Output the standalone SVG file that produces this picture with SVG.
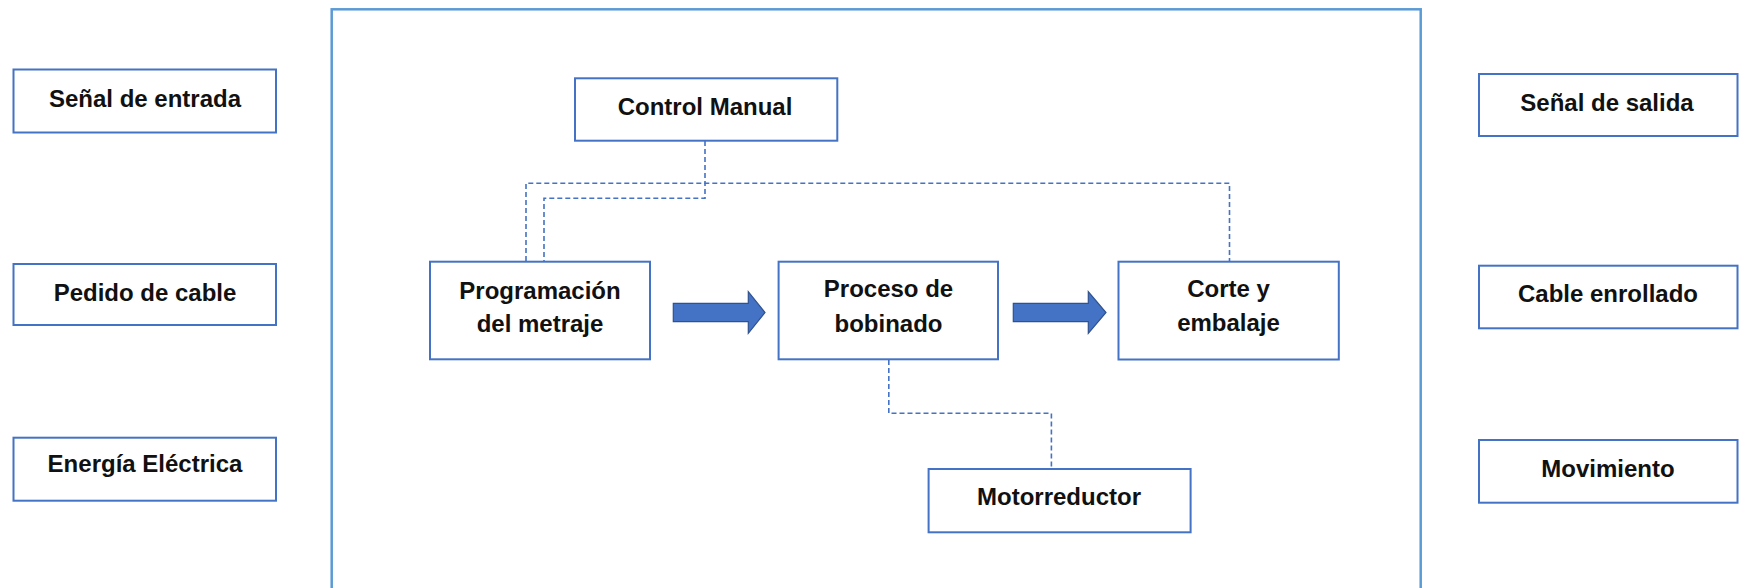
<svg xmlns="http://www.w3.org/2000/svg" width="1739" height="588" viewBox="0 0 1739 588">
  <style>
    .box { fill: #ffffff; stroke: #4472C4; stroke-width: 2; }
    .frame { fill: none; stroke: #5B9BD5; stroke-width: 2.5; }
    .lbl { font-family: "Liberation Sans", Arial, sans-serif; font-weight: bold; font-size: 24px; fill: #111111; text-anchor: middle; }
    .dash { fill: none; stroke: #4472C4; stroke-width: 1.6; stroke-dasharray: 5 3; }
    .flow { fill: #4472C4; stroke: #2F528F; stroke-width: 1.2; }
  </style>

  <rect width="1739" height="588" fill="#ffffff"/>

  <!-- system boundary -->
  <rect id="system-boundary" class="frame" x="331.7" y="9.3" width="1089" height="600"/>

  <!-- inputs -->
  <g id="in-senal">
    <rect class="box" x="13.5" y="69.5" width="262.5" height="63"/>
    <text class="lbl" x="145" y="106.7">Señal de entrada</text>
  </g>
  <g id="in-pedido">
    <rect class="box" x="13.5" y="264" width="262.5" height="61"/>
    <text class="lbl" x="145" y="301">Pedido de cable</text>
  </g>
  <g id="in-energia">
    <rect class="box" x="13.5" y="437.7" width="262.5" height="63"/>
    <text class="lbl" x="145" y="472.3">Energía Eléctrica</text>
  </g>

  <!-- outputs -->
  <g id="out-senal">
    <rect class="box" x="1479" y="74" width="258.5" height="62"/>
    <text class="lbl" x="1607" y="111">Señal de salida</text>
  </g>
  <g id="out-cable">
    <rect class="box" x="1479" y="265.7" width="258.5" height="62.6"/>
    <text class="lbl" x="1608" y="302.3">Cable enrollado</text>
  </g>
  <g id="out-movimiento">
    <rect class="box" x="1479" y="440" width="258.5" height="62.7"/>
    <text class="lbl" x="1608" y="477.3">Movimiento</text>
  </g>

  <!-- connectors -->
  <g id="connectors">
    <path class="dash" d="M705,141 V198.3 H544 V261"/>
    <path class="dash" d="M526,261 V183.3 H1229.5 V261"/>
    <path class="dash" d="M888.8,360 V413.3 H1051.4 V469"/>
    <polygon class="flow" points="673.3,303.3 748.3,303.3 748.3,291.7 765,312.5 748.3,333.3 748.3,321.7 673.3,321.7"/>
    <polygon class="flow" points="1013.3,303.3 1088.3,303.3 1088.3,291.7 1106,312.5 1088.3,333.3 1088.3,321.7 1013.3,321.7"/>
  </g>

  <!-- process nodes -->
  <g id="control-manual">
    <rect class="box" x="575" y="78.3" width="262.3" height="62.4"/>
    <text class="lbl" x="705" y="115">Control Manual</text>
  </g>
  <g id="programacion">
    <rect class="box" x="430" y="261.7" width="220" height="97.6"/>
    <text class="lbl" x="540" y="299">Programación</text>
    <text class="lbl" x="540" y="331.7">del metraje</text>
  </g>
  <g id="bobinado">
    <rect class="box" x="778.6" y="261.7" width="219.4" height="97.6"/>
    <text class="lbl" x="888.5" y="297">Proceso de</text>
    <text class="lbl" x="888.5" y="331.7">bobinado</text>
  </g>
  <g id="corte">
    <rect class="box" x="1118.5" y="261.7" width="220.3" height="97.8"/>
    <text class="lbl" x="1228.5" y="296.5">Corte y</text>
    <text class="lbl" x="1228.5" y="331">embalaje</text>
  </g>
  <g id="motorreductor">
    <rect class="box" x="928.6" y="469" width="262" height="63.3"/>
    <text class="lbl" x="1059" y="505">Motorreductor</text>
  </g>
</svg>
